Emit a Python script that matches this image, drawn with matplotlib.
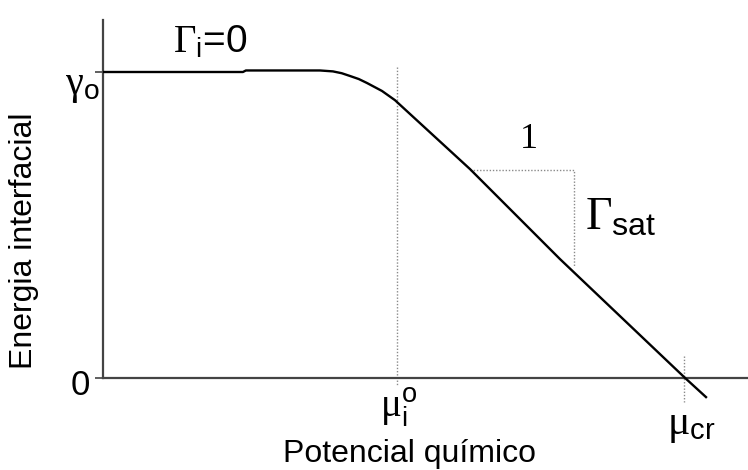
import matplotlib
matplotlib.use("Agg")
import matplotlib.pyplot as plt

plt.rcParams['font.family'] = ['Liberation Sans', 'DejaVu Sans']
plt.rcParams['mathtext.fontset'] = 'custom'
plt.rcParams['mathtext.rm'] = 'Liberation Serif'
plt.rcParams['mathtext.it'] = 'Liberation Serif:italic'
plt.rcParams['mathtext.sf'] = 'Liberation Sans'
plt.rcParams['mathtext.bf'] = 'Liberation Serif:bold'

# Data (abstract units: mu_i0 = 1, gamma_0 = 1)
mu = [0.0, 0.476, 0.486, 0.738, 0.782, 0.812, 0.840, 0.870, 0.898, 0.949, 0.993, 1.078, 1.248, 1.554, 1.980, 2.054]
gamma = [1.0, 1.0, 1.005, 1.005, 1.002, 0.996, 0.987, 0.977, 0.964, 0.938, 0.908, 0.833, 0.683, 0.389, 0.0, -0.065]

gamma0 = 1.0
mu_i0 = 1.0
mu_cr = 1.975
y_ticks = [0.0, gamma0]

guide_i0_y = [1.016, -0.023]
guide_cr_y = [0.072, -0.078]
tri_x = [1.248, 1.602, 1.602]
tri_y = [0.680, 0.680, 0.363]

fig = plt.figure(figsize=(7.48, 4.70), dpi=100)
ax = fig.add_axes([103/748, 1-378/470, 1-103/748, (378-20)/470])
ax.set_xlim(0, (748-103)/294)
ax.set_ylim(0, (378-20)/306)

ax.plot(mu, gamma, color='black', lw=1.7, clip_on=False, zorder=3,
        solid_capstyle='butt', solid_joinstyle='round')

dot = dict(color='#8a8a8a', lw=1.0, linestyle=(0, (1, 1.3)), clip_on=False, zorder=2)
ax.plot([mu_i0, mu_i0], guide_i0_y, **dot)
ax.plot([mu_cr, mu_cr], guide_cr_y, **dot)
ax.plot(tri_x, tri_y, **dot)

for s in ['top', 'right']:
    ax.spines[s].set_visible(False)
for s in ['left', 'bottom']:
    ax.spines[s].set_color('#444444')
    ax.spines[s].set_linewidth(1.6)
ax.set_xticks([])
ax.set_yticks(y_ticks)
ax.set_yticklabels(['', ''])
ax.tick_params(axis='y', length=6, width=1.2, color='#444444', direction='out')

# labels
ax.text(-0.078, -0.025, '0', fontsize=25, ha='center', va='center')
ax.text(-0.071, 0.955, r'$\mathrm{\gamma}_{\mathsf{o}}$', fontsize=29, ha='center', va='center')
ax.text(0.238, 1.065, r'$\mathrm{\Gamma}_{\mathsf{i}}$=0', fontsize=28, ha='left', va='baseline', clip_on=False)
ax.text(1.449, 0.778, '1', fontsize=26, ha='center', va='center', family='Liberation Serif')
ax.text(1.639, 0.484, r'$\mathrm{\Gamma}_{\mathsf{sat}}$', fontsize=33, ha='left', va='baseline')
ax.text(0.942, -0.127, r'$\mathrm{\mu}_{\mathsf{i}}^{\mathsf{o}}$', fontsize=28, ha='left', va='baseline', clip_on=False)
ax.text(1.918, -0.183, r'$\mathrm{\mu}_{\mathsf{cr}}$', fontsize=30, ha='left', va='baseline', clip_on=False)
ax.text(1.044, -0.275, 'Potencial químico', fontsize=23, ha='center', va='baseline', clip_on=False)
ax.text(-0.269, 0.448, 'Energia interfacial', fontsize=23, ha='center', va='center', rotation=90, clip_on=False)

fig.savefig('out.png', dpi=100)
